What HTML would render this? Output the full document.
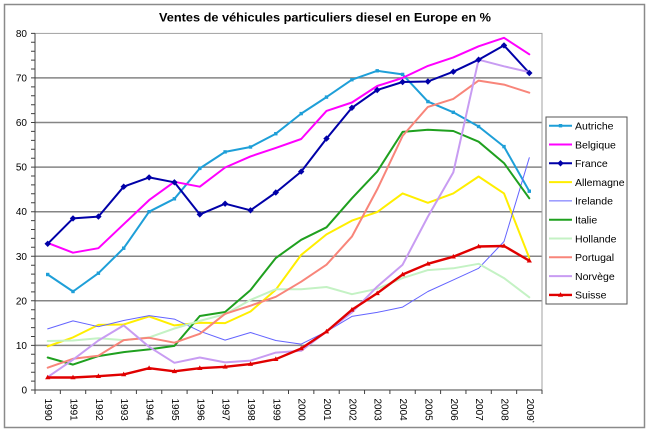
<!DOCTYPE html>
<html><head><meta charset="utf-8"><style>
html,body{margin:0;padding:0;background:#fff;}
svg{display:block;}
text{font-family:"Liberation Sans",Arial,sans-serif;fill:#000;}
</style></head><body>
<svg width="650" height="431" viewBox="0 0 650 431" xmlns="http://www.w3.org/2000/svg">
<rect x="0" y="0" width="650" height="431" fill="#fff"/>
<rect x="4.5" y="4.5" width="640" height="423" fill="#fff" stroke="#8a8a8a" stroke-width="1.5"/>
<text x="325" y="21.5" text-anchor="middle" font-size="12" font-weight="bold" textLength="332" lengthAdjust="spacingAndGlyphs">Ventes de véhicules particuliers diesel en Europe en %</text>

<!-- gridlines -->
<g stroke="#858585" stroke-width="1.5">
<line x1="35" y1="345.4" x2="542" y2="345.4"/>
<line x1="35" y1="300.8" x2="542" y2="300.8"/>
<line x1="35" y1="256.3" x2="542" y2="256.3"/>
<line x1="35" y1="211.7" x2="542" y2="211.7"/>
<line x1="35" y1="167.1" x2="542" y2="167.1"/>
<line x1="35" y1="122.5" x2="542" y2="122.5"/>
<line x1="35" y1="77.9" x2="542" y2="77.9"/>
</g>
<rect x="35" y="33.4" width="507" height="356.6" fill="none" stroke="#a0a0a0" stroke-width="1"/>
<line x1="35" y1="33.4" x2="35" y2="390" stroke="#404040" stroke-width="1"/>
<line x1="35" y1="390" x2="542" y2="390" stroke="#404040" stroke-width="1"/>

<!-- y ticks -->
<path stroke="#404040" stroke-width="1" fill="none" d="M31 390H35M31 381.1H35M31 372.2H35M31 363.3H35M31 354.3H35M31 345.4H35M31 336.5H35M31 327.6H35M31 318.7H35M31 309.8H35M31 300.8H35M31 291.9H35M31 283H35M31 274.1H35M31 265.2H35M31 256.3H35M31 247.3H35M31 238.4H35M31 229.5H35M31 220.6H35M31 211.7H35M31 202.8H35M31 193.8H35M31 184.9H35M31 176H35M31 167.1H35M31 158.2H35M31 149.3H35M31 140.4H35M31 131.4H35M31 122.5H35M31 113.6H35M31 104.7H35M31 95.8H35M31 86.9H35M31 77.9H35M31 69H35M31 60.1H35M31 51.2H35M31 42.3H35M31 33.4H35"/>
<!-- x ticks -->
<path stroke="#404040" stroke-width="1" fill="none" d="M35 390V394M60.35 390V394M85.7 390V394M111.05 390V394M136.4 390V394M161.75 390V394M187.1 390V394M212.45 390V394M237.8 390V394M263.15 390V394M288.5 390V394M313.85 390V394M339.2 390V394M364.55 390V394M389.9 390V394M415.25 390V394M440.6 390V394M465.95 390V394M491.3 390V394M516.65 390V394M542 390V394"/>

<!-- y labels -->
<g font-size="10" text-anchor="end">
<text x="27" y="393.5">0</text>
<text x="27" y="349">10</text>
<text x="27" y="304.3">20</text>
<text x="27" y="259.8">30</text>
<text x="27" y="215.2">40</text>
<text x="27" y="170.6">50</text>
<text x="27" y="126">60</text>
<text x="27" y="81.4">70</text>
<text x="27" y="36.9">80</text>
</g>
<!-- x labels -->
<g font-size="10" dominant-baseline="central">
<text transform="translate(47.7,398.5) rotate(90)">1990</text>
<text transform="translate(73,398.5) rotate(90)">1991</text>
<text transform="translate(98.4,398.5) rotate(90)">1992</text>
<text transform="translate(123.7,398.5) rotate(90)">1993</text>
<text transform="translate(149.1,398.5) rotate(90)">1994</text>
<text transform="translate(174.4,398.5) rotate(90)">1995</text>
<text transform="translate(199.8,398.5) rotate(90)">1996</text>
<text transform="translate(225.1,398.5) rotate(90)">1997</text>
<text transform="translate(250.5,398.5) rotate(90)">1998</text>
<text transform="translate(275.8,398.5) rotate(90)">1999</text>
<text transform="translate(301.2,398.5) rotate(90)">2000</text>
<text transform="translate(326.5,398.5) rotate(90)">2001</text>
<text transform="translate(351.9,398.5) rotate(90)">2002</text>
<text transform="translate(377.2,398.5) rotate(90)">2003</text>
<text transform="translate(402.6,398.5) rotate(90)">2004</text>
<text transform="translate(427.9,398.5) rotate(90)">2005</text>
<text transform="translate(453.3,398.5) rotate(90)">2006</text>
<text transform="translate(478.6,398.5) rotate(90)">2007</text>
<text transform="translate(504,398.5) rotate(90)">2008</text>
<text transform="translate(529.3,398.5) rotate(90)">2009<tspan font-size="5" dy="-2">*</tspan></text>
</g>

<!-- series -->
<g fill="none" stroke-linejoin="round" stroke-linecap="round">
<polyline stroke="#1e9fd8" stroke-width="2" points="47.7,274.5 73,291.5 98.4,273.2 123.7,248.2 149.1,211.7 174.4,198.8 199.8,168.4 225.1,151.9 250.5,147 275.8,133.7 301.2,113.6 326.5,97.1 351.9,79.7 377.2,70.8 402.6,74.4 427.9,101.6 453.3,112.3 478.6,126.5 504,146.6 529.3,191.2"/>
<polyline stroke="#ff00ff" stroke-width="2" points="47.7,242.9 73,252.7 98.4,248.2 123.7,224.2 149.1,200.1 174.4,181.8 199.8,186.7 225.1,167.5 250.5,156.4 275.8,147.9 301.2,139 326.5,110.9 351.9,102.5 377.2,86 402.6,77.9 427.9,65.9 453.3,57.4 478.6,46.3 504,37.8 529.3,54.3"/>
<polyline stroke="#0000a8" stroke-width="2" points="47.7,243.8 73,218.4 98.4,216.6 123.7,186.7 149.1,177.4 174.4,182.3 199.8,214.4 225.1,203.7 250.5,210.3 275.8,192.5 301.2,171.6 326.5,138.6 351.9,107.8 377.2,90 402.6,82 427.9,81.5 453.3,71.7 478.6,59.7 504,45.4 529.3,73"/>
<polyline stroke="#ffee00" stroke-width="2" points="47.7,346.3 73,337.4 98.4,324.9 123.7,324.5 149.1,316.4 174.4,325.4 199.8,322.7 225.1,323.1 250.5,311.5 275.8,289.7 301.2,254.9 326.5,234.4 351.9,220.6 377.2,212.1 402.6,193.4 427.9,202.8 453.3,193.4 478.6,176.5 504,193.4 529.3,258"/>
<polyline stroke="#6464ff" stroke-width="1" points="47.7,328.9 73,320.9 98.4,326.7 123.7,320.5 149.1,315.6 174.4,319.1 199.8,331.2 225.1,340.1 250.5,332.5 275.8,340.5 301.2,344.1 326.5,331.6 351.9,316.4 377.2,312.4 402.6,307.1 427.9,291.5 453.3,279.9 478.6,268.3 504,241.5 529.3,157.7"/>
<polyline stroke="#1fa01f" stroke-width="2" points="47.7,357.5 73,364.6 98.4,356.1 123.7,352.1 149.1,349.4 174.4,345.9 199.8,316 225.1,312 250.5,290.1 275.8,258 301.2,239.8 326.5,227.3 351.9,198.3 377.2,171.6 402.6,131.9 427.9,129.7 453.3,131 478.6,141.7 504,163.1 529.3,198.3"/>
<polyline stroke="#c4f2c4" stroke-width="2" points="47.7,341 73,340.5 98.4,338.3 123.7,340.1 149.1,337.4 174.4,328.5 199.8,320.9 225.1,314.2 250.5,299.9 275.8,289.2 301.2,289.2 326.5,287 351.9,294.2 377.2,288.8 402.6,278.1 427.9,270.1 453.3,268.3 478.6,263.8 504,278.1 529.3,297.3"/>
<polyline stroke="#f8857a" stroke-width="2" points="47.7,367.7 73,358.8 98.4,355.7 123.7,340.1 149.1,337.8 174.4,342.7 199.8,333.8 225.1,313.8 250.5,305.7 275.8,296.8 301.2,281.7 326.5,264.7 351.9,236.6 377.2,189.4 402.6,135.9 427.9,106.9 453.3,98.9 478.6,80.6 504,84.6 529.3,92.7"/>
<polyline stroke="#c89cf2" stroke-width="2" points="47.7,377.1 73,359.7 98.4,340.5 123.7,325.4 149.1,346.8 174.4,362.8 199.8,357.5 225.1,362.4 250.5,360.6 275.8,352.6 301.2,350.8 326.5,331.6 351.9,312.4 377.2,286.6 402.6,264.7 427.9,216.6 453.3,172.4 478.6,59.7 504,66.3 529.3,72.1"/>
<polyline stroke="#e00000" stroke-width="2.4" points="47.7,377.5 73,377.5 98.4,376.2 123.7,374.4 149.1,368.2 174.4,371.3 199.8,368.2 225.1,366.8 250.5,364.1 275.8,359.2 301.2,348.5 326.5,331.6 351.9,309.8 377.2,293.3 402.6,274.5 427.9,263.8 453.3,256.7 478.6,246.5 504,246 529.3,260.7"/>
</g>

<!-- markers -->
<defs>
<rect id="sq" x="-1.7" y="-1.7" width="3.4" height="3.4" fill="#1e9fd8"/>
<path id="dm" d="M0,-3.2L3.2,0L0,3.2L-3.2,0Z" fill="#0000a8"/>
<path id="tr" d="M0,-2.8L2.6,1.8L-2.6,1.8Z" fill="#e00000"/>
</defs>
<g>
<use href="#sq" x="47.7" y="274.5"/><use href="#sq" x="73" y="291.5"/><use href="#sq" x="98.4" y="273.2"/><use href="#sq" x="123.7" y="248.2"/><use href="#sq" x="149.1" y="211.7"/><use href="#sq" x="174.4" y="198.8"/><use href="#sq" x="199.8" y="168.4"/><use href="#sq" x="225.1" y="151.9"/><use href="#sq" x="250.5" y="147"/><use href="#sq" x="275.8" y="133.7"/><use href="#sq" x="301.2" y="113.6"/><use href="#sq" x="326.5" y="97.1"/><use href="#sq" x="351.9" y="79.7"/><use href="#sq" x="377.2" y="70.8"/><use href="#sq" x="402.6" y="74.4"/><use href="#sq" x="427.9" y="101.6"/><use href="#sq" x="453.3" y="112.3"/><use href="#sq" x="478.6" y="126.5"/><use href="#sq" x="504" y="146.6"/><use href="#sq" x="529.3" y="191.2"/>
</g>
<g>
<use href="#dm" x="47.7" y="243.8"/><use href="#dm" x="73" y="218.4"/><use href="#dm" x="98.4" y="216.6"/><use href="#dm" x="123.7" y="186.7"/><use href="#dm" x="149.1" y="177.4"/><use href="#dm" x="174.4" y="182.3"/><use href="#dm" x="199.8" y="214.4"/><use href="#dm" x="225.1" y="203.7"/><use href="#dm" x="250.5" y="210.3"/><use href="#dm" x="275.8" y="192.5"/><use href="#dm" x="301.2" y="171.6"/><use href="#dm" x="326.5" y="138.6"/><use href="#dm" x="351.9" y="107.8"/><use href="#dm" x="377.2" y="90"/><use href="#dm" x="402.6" y="82"/><use href="#dm" x="427.9" y="81.5"/><use href="#dm" x="453.3" y="71.7"/><use href="#dm" x="478.6" y="59.7"/><use href="#dm" x="504" y="45.4"/><use href="#dm" x="529.3" y="73"/>
</g>
<g>
<use href="#tr" x="47.7" y="377.5"/><use href="#tr" x="73" y="377.5"/><use href="#tr" x="98.4" y="376.2"/><use href="#tr" x="123.7" y="374.4"/><use href="#tr" x="149.1" y="368.2"/><use href="#tr" x="174.4" y="371.3"/><use href="#tr" x="199.8" y="368.2"/><use href="#tr" x="225.1" y="366.8"/><use href="#tr" x="250.5" y="364.1"/><use href="#tr" x="275.8" y="359.2"/><use href="#tr" x="301.2" y="348.5"/><use href="#tr" x="326.5" y="331.6"/><use href="#tr" x="351.9" y="309.8"/><use href="#tr" x="377.2" y="293.3"/><use href="#tr" x="402.6" y="274.5"/><use href="#tr" x="427.9" y="263.8"/><use href="#tr" x="453.3" y="256.7"/><use href="#tr" x="478.6" y="246.5"/><use href="#tr" x="504" y="246"/><use href="#tr" x="529.3" y="260.7"/>
</g>

<!-- legend -->
<rect x="546" y="117" width="81" height="187" fill="#fff" stroke="#555" stroke-width="1"/>
<g stroke-width="2">
<line x1="549" y1="125.7" x2="572" y2="125.7" stroke="#1e9fd8"/>
<line x1="549" y1="144.5" x2="572" y2="144.5" stroke="#ff00ff"/>
<line x1="549" y1="163.3" x2="572" y2="163.3" stroke="#0000a8"/>
<line x1="549" y1="182.1" x2="572" y2="182.1" stroke="#ffee00"/>
<line x1="549" y1="200.9" x2="572" y2="200.9" stroke="#6464ff" stroke-width="1"/>
<line x1="549" y1="219.7" x2="572" y2="219.7" stroke="#1fa01f"/>
<line x1="549" y1="238.5" x2="572" y2="238.5" stroke="#c4f2c4"/>
<line x1="549" y1="257.3" x2="572" y2="257.3" stroke="#f8857a"/>
<line x1="549" y1="276.1" x2="572" y2="276.1" stroke="#c89cf2"/>
<line x1="549" y1="294.9" x2="572" y2="294.9" stroke="#e00000" stroke-width="2.4"/>
</g>
<use href="#sq" x="560.5" y="125.7"/>
<use href="#dm" x="560.5" y="163.3"/>
<use href="#tr" x="560.5" y="294.9"/>
<g font-size="10.5">
<text x="575" y="129.5">Autriche</text>
<text x="575" y="148.3">Belgique</text>
<text x="575" y="167.1">France</text>
<text x="575" y="185.9">Allemagne</text>
<text x="575" y="204.7">Irelande</text>
<text x="575" y="223.5">Italie</text>
<text x="575" y="242.3">Hollande</text>
<text x="575" y="261.1">Portugal</text>
<text x="575" y="279.9">Norvège</text>
<text x="575" y="298.7">Suisse</text>
</g>
</svg>
</body></html>
